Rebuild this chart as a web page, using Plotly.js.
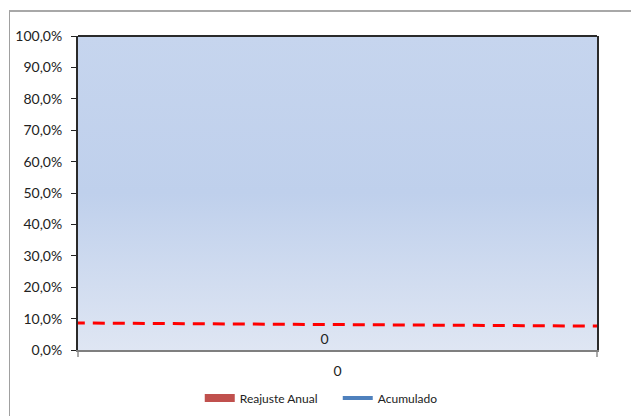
<!DOCTYPE html>
<html><head><meta charset="utf-8">
<script src="https://cdn.plot.ly/plotly-3.0.1.min.js"></script>
<style>
html,body{margin:0;padding:0;background:#fff;}
#wrap{position:relative;width:631px;height:416px;overflow:hidden;}
#frame{position:absolute;left:9px;top:10px;width:640px;height:420px;border-left:1px solid #a0a0a0;border-top:2px solid #a8a8a8;pointer-events:none;}
#chart{position:absolute;left:0;top:0;width:631px;height:416px;}
</style></head>
<body><div id="wrap"><div id="chart"></div><div id="frame"></div></div>
<script>
const categories = ["0"];
const reajusteAnual = [0];
const acumulado = [0];
const trendX = [-0.51, 0.51];
const trendY = [0.086, 0.076];
const yTicks = [0,0.1,0.2,0.3,0.4,0.5,0.6,0.7,0.8,0.9,1.0];

const grad = 'data:image/svg+xml;base64,' + btoa(
 '<svg xmlns="http://www.w3.org/2000/svg" width="100" height="100" preserveAspectRatio="none">' +
 '<defs><linearGradient id="g" x1="0" y1="0" x2="0" y2="1">' +
 '<stop offset="0" stop-color="#c6d5ee"/><stop offset="0.5" stop-color="#bfd0ec"/>' +
 '<stop offset="1" stop-color="#dfe6f3"/></linearGradient></defs>' +
 '<rect width="100" height="100" fill="url(#g)"/></svg>');

const traces = [
 {type:'bar', name:'Reajuste Anual', x:[0], y:reajusteAnual, text:categories, textposition:'outside',
  textfont:{size:14,color:'#222'}, marker:{color:'#c0504d'}, width:0.05, offset:-0.05, cliponaxis:false,
  showlegend:false},
 {type:'scatter', mode:'lines', name:'Reajuste Anual', x:[0], y:[null], line:{color:'#c0504d',width:8}},
 {type:'scatter', mode:'lines', name:'Acumulado', x:[0], y:acumulado, line:{color:'#4f81bd',width:4}},
 {type:'scatter', mode:'lines', x:trendX, y:trendY, showlegend:false, hoverinfo:'skip',
  line:{color:'#ff0000',width:3,dash:'12px,8px'}}
];

const layout = {
 width:631, height:416,
 margin:{l:78,r:34,t:36,b:66, autoexpand:false},
 paper_bgcolor:'#ffffff', plot_bgcolor:'rgba(0,0,0,0)',
 font:{family:'Lato, "Open Sans", sans-serif', color:'#222'},
 separators:',.',
 showlegend:true,
 legend:{orientation:'h', x:0.2346, xref:'paper', xanchor:'left', yref:'container', y:0.043, yanchor:'middle',
  font:{size:12}, traceorder:'normal', bgcolor:'rgba(0,0,0,0)', entrywidth:93, entrywidthmode:'pixels'},
 xaxis:{range:[-0.5,0.5], tickvals:[0], ticktext:categories, ticks:'', showgrid:false, zeroline:false,
  showline:true, linecolor:'#7f7f7f', linewidth:2, tickfont:{size:14}, ticklabelstandoff:7,
  minor:{tickvals:[-0.5,0.5], ticks:'outside', ticklen:5, tickcolor:'#aaaaaa', tickwidth:2, showgrid:false}},
 yaxis:{range:[0,1], tickvals:yTicks, tickformat:'.1%', ticks:'outside', ticklen:5, tickcolor:'#222',
  showgrid:false, zeroline:false, showline:true, mirror:true, linecolor:'#2a2a2a', linewidth:2,
  tickfont:{size:14}, ticklabelstandoff:6},
 images:[{source:grad, xref:'paper', yref:'paper', x:0, y:1, sizex:1, sizey:1, sizing:'stretch', layer:'below'}],
 shapes:[{type:'line', xref:'paper', yref:'paper', x0:0, x1:1, y0:1, y1:1, line:{color:'#2a2a2a',width:2}}]
};
Plotly.newPlot('chart', traces, layout, {displayModeBar:false, staticPlot:true});
</script></body></html>
